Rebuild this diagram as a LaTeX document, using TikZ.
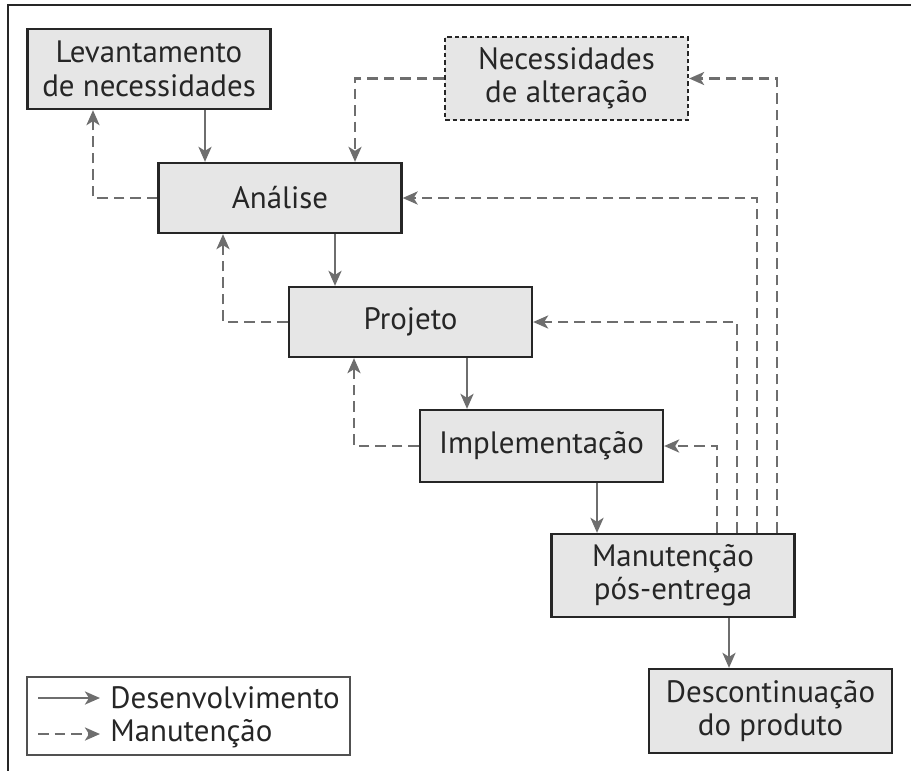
\documentclass[tikz,border=0pt]{standalone}
\usepackage{fontspec}
\setmainfont{PT Sans}
\usetikzlibrary{arrows.meta}
\definecolor{boxgray}{HTML}{E6E6E6}
\definecolor{arrgray}{HTML}{6E6E6E}
\definecolor{edge}{HTML}{262626}
\tikzset{
	etapa/.style={draw=edge, line width=1.3pt, fill=boxgray, minimum width=4.86cm,
		align=center, inner sep=0pt, text=black!85, font=\fontsize{17.6}{19}\selectfont},
	dev/.style={arrgray, line width=1.6pt, -{Stealth[length=0.3cm,width=0.26cm,inset=0.08cm]}},
	mnt/.style={dev, dash pattern=on 0.21cm off 0.12cm},
}
\begin{document}
\begin{tikzpicture}[x=0.02cm, y=-0.02cm]
	\useasboundingbox (0,0) rectangle (911,771);
	%frame
	\draw[edge, line width=1.2pt] (911,5) -- (8,5) -- (8,771);
	
	%stages
	\node[etapa, minimum height=1.6cm] (lev) at (149,69) {Levantamento\\de necessidades};
	\node[etapa, minimum height=1.66cm, dash pattern=on 0.09cm off 0.06cm] (nec) at (566.5,78.5) {Necessidades\\de alteração};
	\node[etapa, minimum height=1.4cm] (ana) at (280,198) {Análise};
	\node[etapa, minimum height=1.4cm] (proj) at (410.5,322) {Projeto};
	\node[etapa, minimum height=1.44cm] (impl) at (541.5,446) {Implementação};
	\node[etapa, minimum height=1.66cm] (man) at (673,575.5) {Manutenção\\pós-entrega};
	\node[etapa, minimum height=1.68cm] (desc) at (770.5,711) {Descontinuação\\do produto};
	
	%development
	\draw[dev] (lev.south -| 205,0) -- (ana.north -| 205,0);
	\draw[dev] (ana.south -| 335,0) -- (proj.north -| 335,0);
	\draw[dev] (proj.south -| 467,0) -- (impl.north -| 467,0);
	\draw[dev] (impl.south -| 597,0) -- (man.north -| 597,0);
	\draw[dev] (man.south -| 729,0) -- (desc.north -| 729,0);
	
	%maintenance
	\draw[mnt] (ana.west) -| (lev.south -| 93,0);
	\draw[mnt] (nec.west) -| (ana.north -| 355,0);
	\draw[mnt] (proj.west) -| (ana.south -| 223,0);
	\draw[mnt] (impl.west) -| (proj.south -| 354,0);
	\draw[mnt] (man.north -| 717,0) |- (impl.east);
	\draw[mnt] (man.north -| 737,0) |- (proj.east);
	\draw[mnt] (man.north -| 757,0) |- (ana.east);
	\draw[mnt] (man.north -| 777,0) |- (nec.east);
	
	%legend
	\node[draw=edge!80, line width=0.8pt, minimum width=6.46cm, minimum height=1.56cm, inner sep=0pt] (leg) at (188.5,716) {};
	\node[anchor=west, inner sep=0pt, text=black!85, font=\fontsize{17.6}{19}\selectfont] (ldev) at (110,698) {Desenvolvimento};
	\node[anchor=west, inner sep=0pt, text=black!85, font=\fontsize{17.6}{19}\selectfont] (lmnt) at (110,734) {Manutenção};
	\draw[dev] ([xshift=-1.44cm]ldev.west) -- ([xshift=-0.2cm]ldev.west);
	\draw[mnt] ([xshift=-1.44cm]lmnt.west) -- ([xshift=-0.2cm]lmnt.west);
\end{tikzpicture}
\end{document}
